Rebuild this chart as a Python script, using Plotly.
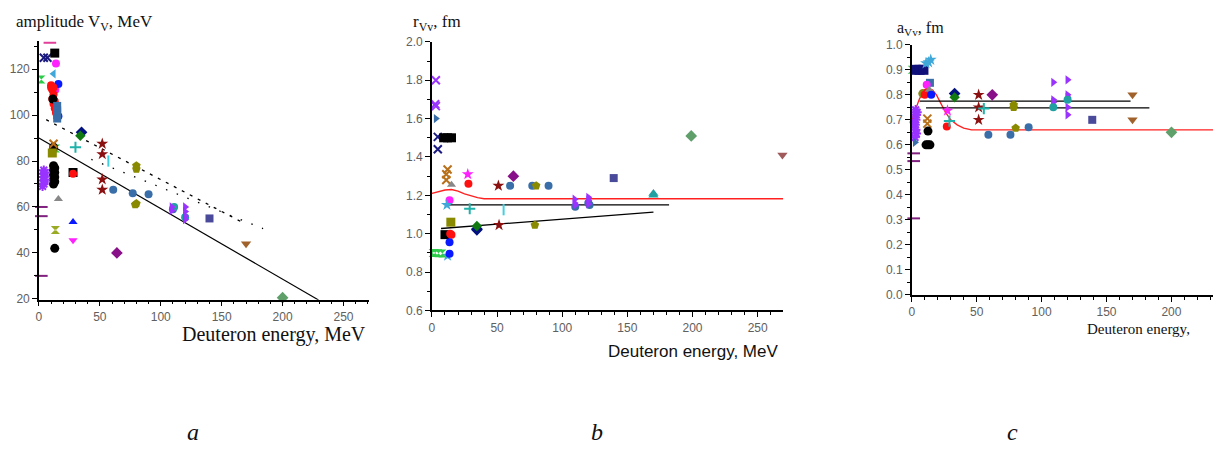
import plotly.graph_objects as go

# ---------------- panel a: potential depth V_V (MeV) vs deuteron energy ----------------
depth_energy = [9, 2, 2, 2, 4, 7, 13, 28, 14, 13.5, 12, 2, 16, 16,
                10, 11, 12, 11, 12, 13, 14, 10, 12, 13, 15, 14, 28,
                11.5, 15, 15, 15, 15, 35, 34, 52, 52, 52, 52, 30, 57,
                80, 80, 80, 79, 61, 77, 90, 110, 111, 120,
                120, 120, 120, 120, 109, 109, 140, 170, 200, 270,
                12, 12, 13, 12, 13, 12, 13, 12, 13, 12, 13,
                12, 11, 14, 4, 4, 4, 4, 4, 3, 5, 5,
                16, 13, 14, 28, 28, 64]
depth_value = [131.5, 60, 56, 30, 125, 125, 127, 75, 122.5, 111, 118, 115.5, 113.5, 99.5,
               113, 111, 109, 107, 105, 103, 101, 112, 112, 106, 102, 104, 74.5,
               107, 104, 102, 100, 98.5, 92.5, 91, 87.5, 83, 72, 67.5, 86, 80,
               78, 76.5, 61.5, 61, 67.5, 66, 65.5, 59, 60, 55.5,
               60, 58, 56, 54.5, 60, 58.5, 55, 44, 20.5, 19.5,
               86, 78, 77, 76, 75, 74, 73, 72, 71, 70, 42,
               87.5, 83.5, 85.5, 76, 74.5, 73, 71.5, 70, 69, 75, 72,
               63.5, 50, 50, 53.5, 45.5, 40]
depth_group = ["dash_pink", "dash_purple", "dash_purple", "dash_purple", "x_navy", "x_navy",
               "square_black", "square_black", "circle_magenta", "circle_magenta",
               "tri_left_lightblue", "hourglass_green", "circle_blue", "circle_blue",
               "red", "red", "red", "red", "red", "red", "red", "red", "red", "red", "red", "red", "red",
               "circle_black", "square_steel", "square_steel", "square_steel", "square_steel",
               "diamond_navy", "diamond_darkgreen",
               "star_darkred", "star_darkred", "star_darkred", "star_darkred", "cross_teal", "line_cyan",
               "pentagon_olive", "pentagon_olive", "pentagon_olive", "pentagon_olive",
               "circle_steel", "circle_steel", "circle_steel", "circle_steel", "circle_teal", "circle_teal",
               "tri_right_violet", "tri_right_violet", "tri_right_violet", "tri_right_violet",
               "tri_right_violet", "tri_right_violet",
               "square_slate", "tri_down_brown", "diamond_green", "tri_down_rosy",
               "circle_black", "circle_black", "circle_black", "circle_black", "circle_black",
               "circle_black", "circle_black", "circle_black", "circle_black", "circle_black", "circle_black",
               "x_brown", "square_olive", "hourglass_green",
               "asterisk_violet", "asterisk_violet", "asterisk_violet", "asterisk_violet",
               "asterisk_violet", "asterisk_violet", "asterisk_violet", "asterisk_violet",
               "tri_up_gray", "hourglass_yellowgreen", "hourglass_yellowgreen",
               "tri_up_blue", "tri_down_magenta", "diamond_purple"]

# systematics for panel a
depth_fit_energy = [0, 229.5]
depth_fit_value = [90, 19.5]
depth_upper_energy = [6, 166]
depth_upper_value = [98, 53.6]
depth_lower_energy = [43, 184]
depth_lower_value = [80.7, 50.6]

# ---------------- panel b: radius r_Vv (fm) ----------------
radius_energy = [3, 2.5, 3, 3, 4.5, 4.5, 9, 12, 15, 10,
                 12, 11, 11, 15, 27.5, 28, 15, 14,
                 51, 51.5, 60, 77, 89.5, 110, 120, 121, 62.5, 80, 79,
                 109.5, 109.5, 110, 120, 120, 120,
                 139.5, 170, 170, 199, 269,
                 13.5, 11.5, 29, 55, 14.5, 13.5, 13.5, 12,
                 0.5, 2.5, 5, 8, 34.5, 34.5, 34.5]
radius_value = [1.80, 1.675, 1.665, 1.60, 1.505, 1.44, 1.50, 1.50, 1.50, 0.995,
                1.335, 1.31, 1.28, 1.255, 1.31, 1.26, 0.995, 1.0,
                1.25, 1.045, 1.25, 1.25, 1.25, 1.14, 1.16, 1.15, 1.30, 1.25, 1.045,
                1.18, 1.16, 1.15, 1.19, 1.175, 1.155,
                1.29, 1.20, 1.21, 1.51, 1.41,
                1.175, 1.15, 1.13, 1.125, 1.06, 0.955, 0.895, 0.885,
                0.90, 0.90, 0.898, 0.897, 1.025, 1.02, 1.04]
radius_group = ["x_violet", "x_violet", "x_violet", "tri_right_steel", "x_navy", "x_navy",
                "square_black", "square_black", "square_black", "square_black",
                "x_brown", "x_brown", "x_brown", "tri_up_gray", "star_magenta", "red", "red", "red",
                "star_darkred", "star_darkred", "circle_steel", "circle_steel", "circle_steel",
                "circle_steel", "circle_steel", "circle_steel", "diamond_purple",
                "pentagon_olive", "pentagon_olive",
                "tri_right_violet", "tri_right_violet", "tri_right_violet",
                "tri_right_violet", "tri_right_violet", "tri_right_violet",
                "square_slate", "tri_up_teal", "tri_up_teal", "diamond_green", "tri_down_rosy",
                "circle_magenta", "star_lightblue", "cross_teal", "line_cyan", "square_olive",
                "circle_blue", "circle_blue", "star_lightblue",
                "hourglass_green", "hourglass_green", "hourglass_green", "hourglass_green",
                "diamond_navy", "diamond_navy", "diamond_darkgreen"]

radius_curve_energy = [0, 5, 10, 15, 20, 25, 30, 35, 40, 270]
radius_curve_value = [1.21, 1.22, 1.228, 1.23, 1.222, 1.208, 1.196, 1.188, 1.182, 1.182]
radius_flat_energy = [10, 182]
radius_flat_value = [1.15, 1.15]
radius_rise_energy = [7, 170]
radius_rise_value = [1.027, 1.112]

# ---------------- panel c: diffuseness a_Vv (fm) ----------------
diffuse_energy = [0, 3, 6, 9, 11, 14.6, 13, 14, 11.5, 8.5, 10, 12, 13.5, 15,
                  33, 33, 51.5, 51.5, 51.5, 62, 55.5, 29, 27.5, 27,
                  3, 3.5, 3, 2.5, 3, 3.5, 2.5, 4, 2,
                  12, 12, 12.5, 12.5, 11, 14, 2.5, 1.5, 1.5, 1.5,
                  59, 76, 90, 78.5, 78.5, 80,
                  109, 109, 109, 120, 120, 120, 120, 120,
                  109, 120, 139, 170, 170, 200]
diffuse_value = [0.90, 0.90, 0.90, 0.90, 0.926, 0.94, 0.93, 0.848, 0.84, 0.805, 0.80, 0.81, 0.82, 0.80,
                 0.805, 0.79, 0.80, 0.75, 0.70, 0.80, 0.745, 0.695, 0.737, 0.673,
                 0.74, 0.72, 0.70, 0.68, 0.66, 0.645, 0.63, 0.73, 0.69,
                 0.705, 0.685, 0.655, 0.60, 0.60, 0.60, 0.61, 0.566, 0.535, 0.306,
                 0.64, 0.64, 0.67, 0.76, 0.75, 0.667,
                 0.85, 0.78, 0.77, 0.86, 0.80, 0.79, 0.75, 0.72,
                 0.75, 0.78, 0.70, 0.80, 0.70, 0.65]
diffuse_group = ["hourglass_green", "square_navy", "square_navy", "square_navy",
                 "star_lightblue", "star_lightblue", "star_lightblue", "square_steel",
                 "circle_magenta", "circle_olive", "red", "red", "tri_up_gray", "circle_blue",
                 "diamond_navy", "diamond_darkgreen", "star_darkred", "star_darkred", "star_darkred",
                 "diamond_purple", "cross_teal", "cross_teal", "star_magenta", "red",
                 "asterisk_violet", "asterisk_violet", "asterisk_violet", "asterisk_violet",
                 "asterisk_violet", "asterisk_violet", "asterisk_violet", "asterisk_violet",
                 "asterisk_violet",
                 "x_brown", "x_brown", "circle_black", "circle_black", "circle_black", "circle_black",
                 "tri_right_steel", "dash_purple", "dash_purple", "dash_purple",
                 "circle_steel", "circle_steel", "circle_steel",
                 "pentagon_olive", "pentagon_olive", "pentagon_olive",
                 "tri_right_violet", "tri_right_violet", "tri_right_violet", "tri_right_violet",
                 "tri_right_violet", "tri_right_violet", "tri_right_violet", "tri_right_violet",
                 "circle_teal", "circle_teal", "square_slate", "tri_down_brown", "tri_down_brown",
                 "diamond_green"]

diffuse_curve_energy = [0, 3, 6, 9, 12, 16, 19, 22, 26, 30, 35, 40, 46, 232]
diffuse_curve_value = [0.70, 0.74, 0.785, 0.81, 0.82, 0.82, 0.80, 0.77, 0.73, 0.70, 0.68,
                       0.667, 0.66, 0.66]
diffuse_upper_energy = [6, 168.5]
diffuse_upper_value = [0.775, 0.775]
diffuse_lower_energy = [11, 183]
diffuse_lower_value = [0.748, 0.748]

# ---------------- marker styles (symbol, colour, size) ----------------
STYLE = {
    "dash_pink": ("line-ew-open", "#e0409a", 9),
    "dash_purple": ("line-ew-open", "#80207f", 9),
    "x_navy": ("x-thin-open", "#1a1a80", 8),
    "x_violet": ("x-thin-open", "#9933ff", 8),
    "x_brown": ("x-thin-open", "#b8701a", 8),
    "square_black": ("square", "#000000", 9),
    "square_navy": ("square", "#10107a", 10),
    "square_steel": ("square", "#3a6ea8", 8),
    "square_olive": ("square", "#8a8a00", 9),
    "square_slate": ("square", "#4a4a9a", 8),
    "circle_magenta": ("circle", "#ff20ff", 8),
    "circle_blue": ("circle", "#0a1aff", 8),
    "circle_black": ("circle", "#000000", 9),
    "circle_steel": ("circle", "#3a6ea8", 8),
    "circle_teal": ("circle", "#20a0a0", 8),
    "circle_olive": ("circle", "#8a8a10", 9),
    "red": ("circle", "#ff1010", 8),
    "tri_left_lightblue": ("triangle-left", "#40a8d8", 8),
    "tri_right_steel": ("triangle-right", "#3a6ea8", 8),
    "tri_right_violet": ("triangle-right", "#9933ff", 8),
    "tri_up_gray": ("triangle-up", "#888888", 8),
    "tri_up_blue": ("triangle-up", "#0a1aff", 8),
    "tri_up_teal": ("triangle-up", "#20a0a0", 9),
    "tri_down_magenta": ("triangle-down", "#ff20ff", 8),
    "tri_down_brown": ("triangle-down", "#a0622a", 9),
    "tri_down_rosy": ("triangle-down", "#a05a5a", 9),
    "hourglass_green": ("hourglass", "#2ccc4a", 8),
    "hourglass_yellowgreen": ("hourglass", "#9aaa22", 8),
    "star_darkred": ("star", "#8b1010", 9),
    "star_magenta": ("star", "#ff20ff", 9),
    "star_lightblue": ("star", "#40a8d8", 9),
    "diamond_navy": ("diamond", "#00107f", 9),
    "diamond_darkgreen": ("diamond", "#107a10", 8),
    "diamond_green": ("diamond", "#5f9f6a", 9),
    "diamond_purple": ("diamond", "#881088", 9),
    "pentagon_olive": ("pentagon", "#8a8a00", 9),
    "cross_teal": ("cross-thin-open", "#20b2aa", 8),
    "line_cyan": ("line-ns-open", "#40d0e0", 8),
    "asterisk_violet": ("asterisk-open", "#9933ff", 8),
}

W, H = 1220, 457


def px_x(p):
    return p / W


def px_y(p):
    return 1 - p / H


fig = go.Figure()


def add_points(energy, value, group, xa, ya):
    order = list(dict.fromkeys(group))
    for key in order:
        sym, col, size = STYLE[key]
        xs = [e for e, g in zip(energy, group) if g == key]
        ys = [v for v, g in zip(value, group) if g == key]
        open_sym = sym.endswith("-open")
        fig.add_trace(go.Scatter(
            x=xs, y=ys, mode="markers", xaxis=xa, yaxis=ya, cliponaxis=False,
            marker=dict(symbol=sym, color=col, size=size,
                        line=dict(width=2 if open_sym else 0, color=col)),
            hoverinfo="x+y"))


def add_line(ex, vy, xa, ya, color, width=1.3, dash="solid"):
    fig.add_trace(go.Scatter(x=ex, y=vy, mode="lines", xaxis=xa, yaxis=ya,
                             line=dict(color=color, width=width, dash=dash),
                             hoverinfo="skip"))


# lines first so markers sit on top
add_line(depth_fit_energy, depth_fit_value, "x", "y", "#000000", 1.2)
add_line(depth_upper_energy, depth_upper_value, "x", "y", "#000000", 1.3, "3px,6px")
add_line(depth_lower_energy, depth_lower_value, "x", "y", "#000000", 1.3, "1.5px,10px")
add_line(radius_curve_energy, radius_curve_value, "x2", "y2", "#ff2020", 1.4)
add_line(radius_flat_energy, radius_flat_value, "x2", "y2", "#000000", 1.3)
add_line(radius_rise_energy, radius_rise_value, "x2", "y2", "#000000", 1.3)
add_line(diffuse_curve_energy, diffuse_curve_value, "x3", "y3", "#ff2020", 1.3)
add_line(diffuse_upper_energy, diffuse_upper_value, "x3", "y3", "#000000", 1.3)
add_line(diffuse_lower_energy, diffuse_lower_value, "x3", "y3", "#000000", 1.3)

add_points(depth_energy, depth_value, depth_group, "x", "y")
add_points(radius_energy, radius_value, radius_group, "x2", "y2")
add_points(diffuse_energy, diffuse_value, diffuse_group, "x3", "y3")

tick_font = dict(family="Liberation Sans, Arial, sans-serif", size=12, color="#606060")


def axis(domain, rng, dtick, minor_dtick, anchor):
    return dict(domain=domain, range=rng, dtick=dtick, tick0=0, anchor=anchor,
                showgrid=False, zeroline=False, showline=True, linecolor="#000000",
                linewidth=1.5, ticks="outside", ticklen=5, tickwidth=1.2, tickcolor="#000000",
                tickfont=tick_font,
                minor=dict(dtick=minor_dtick, tick0=0, ticks="outside", ticklen=3,
                           tickwidth=1, tickcolor="#000000", showgrid=False))


fig.update_layout(
    width=W, height=H, margin=dict(l=0, r=0, t=0, b=0),
    paper_bgcolor="white", plot_bgcolor="white", showlegend=False,
    xaxis=axis([px_x(36), px_x(367)], [0, 271], 50, 10, "y"),
    yaxis=axis([px_y(302), px_y(35)], [19.6, 132.3], 20, 10, "x"),
    xaxis2=axis([px_x(430), px_x(782)], [0, 269.5], 50, 10, "y2"),
    yaxis2=axis([px_y(313), px_y(36)], [0.6, 2.0], 0.2, 0.1, "x2"),
    xaxis3=axis([px_x(911), px_x(1213)], [0, 232], 50, 10, "y3"),
    yaxis3=axis([px_y(297), px_y(39)], [0.0, 1.0], 0.1, 0.05, "x3"),
)
fig.update_yaxes(tickformat=".1f", selector=dict(anchor="x2"))
fig.update_yaxes(tickformat=".1f", selector=dict(anchor="x3"))

SERIF = "Liberation Serif, Times New Roman, serif"
SANS = "Liberation Sans, Arial, sans-serif"


def note(text, x, y, size, family, xanchor="left", italic=False):
    fig.add_annotation(text=f"<i>{text}</i>" if italic else text,
                       x=px_x(x), y=px_y(y), xref="paper", yref="paper",
                       xanchor=xanchor, yanchor="middle", showarrow=False,
                       font=dict(family=family, size=size, color="#111111"))


note("amplitude V<sub>V</sub>, MeV", 11, 16, 17, SERIF)
note("r<sub>Vv</sub>, fm", 409, 16, 17, SERIF)
note("a<sub>Vv</sub>, fm", 894, 22, 16, SERIF)
note("Deuteron energy, MeV", 366, 338, 20, SERIF, xanchor="right")
note("Deuteron energy, MeV", 779, 355, 17, SANS, xanchor="right")
note("Deuteron energy,", 1192, 332, 15, SERIF, xanchor="right")
note("a", 190, 438, 24, SERIF, xanchor="center", italic=True)
note("b", 595, 438, 24, SERIF, xanchor="center", italic=True)
note("c", 1012, 438, 24, SERIF, xanchor="center", italic=True)

fig.write_html("out.html")
